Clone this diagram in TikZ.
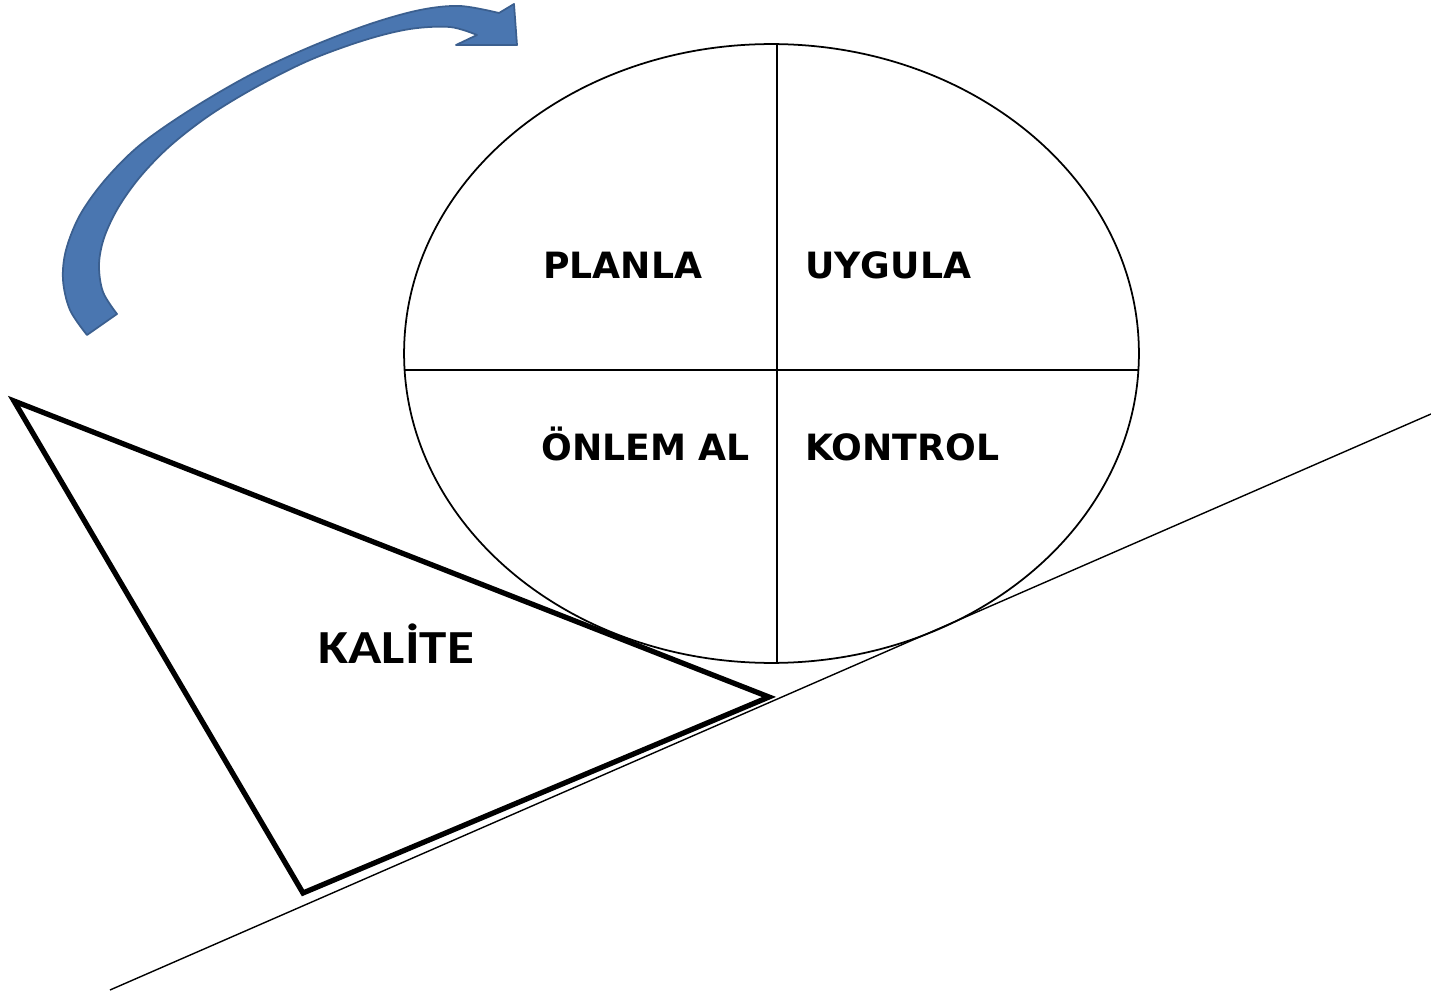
\documentclass[tikz,border=0pt]{standalone}
\usepackage{fontspec}
\usepackage{tikz}
\usetikzlibrary{positioning}
\newfontfamily\phasefont{DejaVu Sans}
\newfontfamily\kalitefont[FakeStretch=1.16]{Carlito}
\definecolor{arrowblue}{HTML}{4A76B0}
\definecolor{arrowedge}{HTML}{3B5F8F}
\tikzset{phase/.style={anchor=base west, inner sep=0pt, font=\phasefont\bfseries\fontsize{20.6}{24}\selectfont}}
\tikzset{quality/.style={anchor=base west, inner sep=0pt, font=\kalitefont\bfseries\fontsize{27}{32}\selectfont}}
\tikzset{wheel/.style={draw, line width=1pt}}
\tikzset{wedge/.style={draw, line width=3pt, line join=miter}}
\tikzset{slope/.style={draw, line width=0.8pt}}
\tikzset{turn/.style={fill=arrowblue, draw=arrowedge, line width=1pt, line join=round}}

\begin{document}
\begin{tikzpicture}[x=0.02cm, y=-0.02cm]
        \useasboundingbox (0,0) rectangle (1431,993);

        % incline and wedge
        \coordinate (low)  at (110,990);
        \coordinate (high) at (1431,414);
        \path[slope] (low) -- (high);
        \coordinate (tip)  at (14,401);
        \coordinate (nose) at (769,697);
        \coordinate (foot) at (303,893);
        \path[wedge] (tip) -- (nose) -- (foot) -- cycle;
        \node[quality] (kal) at (318,663) {KALİTE};

        % the wheel
        \path[wheel] (771.5,353.5) ellipse [x radius=7.35cm, y radius=6.19cm];
        \coordinate (top)   at (777,44);
        \coordinate (bot)   at (777,663);
        \coordinate (west)  at (404,370);
        \coordinate (east)  at (1139,370);
        \path[wheel] (top) -- (bot);
        \path[wheel] (west) -- (east);

        \node[phase] (plan) at (543,279) {PLANLA};
        \node[phase] (do)   at (805,279) {UYGULA};
        \node[phase] (act)  at (541,460) {ÖNLEM AL};
        \node[phase] (chk)  at (805,460) {KONTROL};

        % turning arrow
        \path[turn] plot[smooth, tension=0.55] coordinates {(87,335) (70,310) (63,280) (66,250) (80,215) (105,180) (140,145) (190,110) (250,75) (310,47) (370,24) (420,10) (460,6) (499,13)}
            -- (514,4) -- (517,45) -- (456,45) -- (477,35)
            -- plot[smooth, tension=0.55] coordinates {(477,35) (450,27) (410,29) (365,40) (310,60) (258,86) (210,115) (170,146) (140,177) (118,208) (104,238) (99,265) (103,292) (117,314)}
            -- cycle;
      \end{tikzpicture}
\end{document}
